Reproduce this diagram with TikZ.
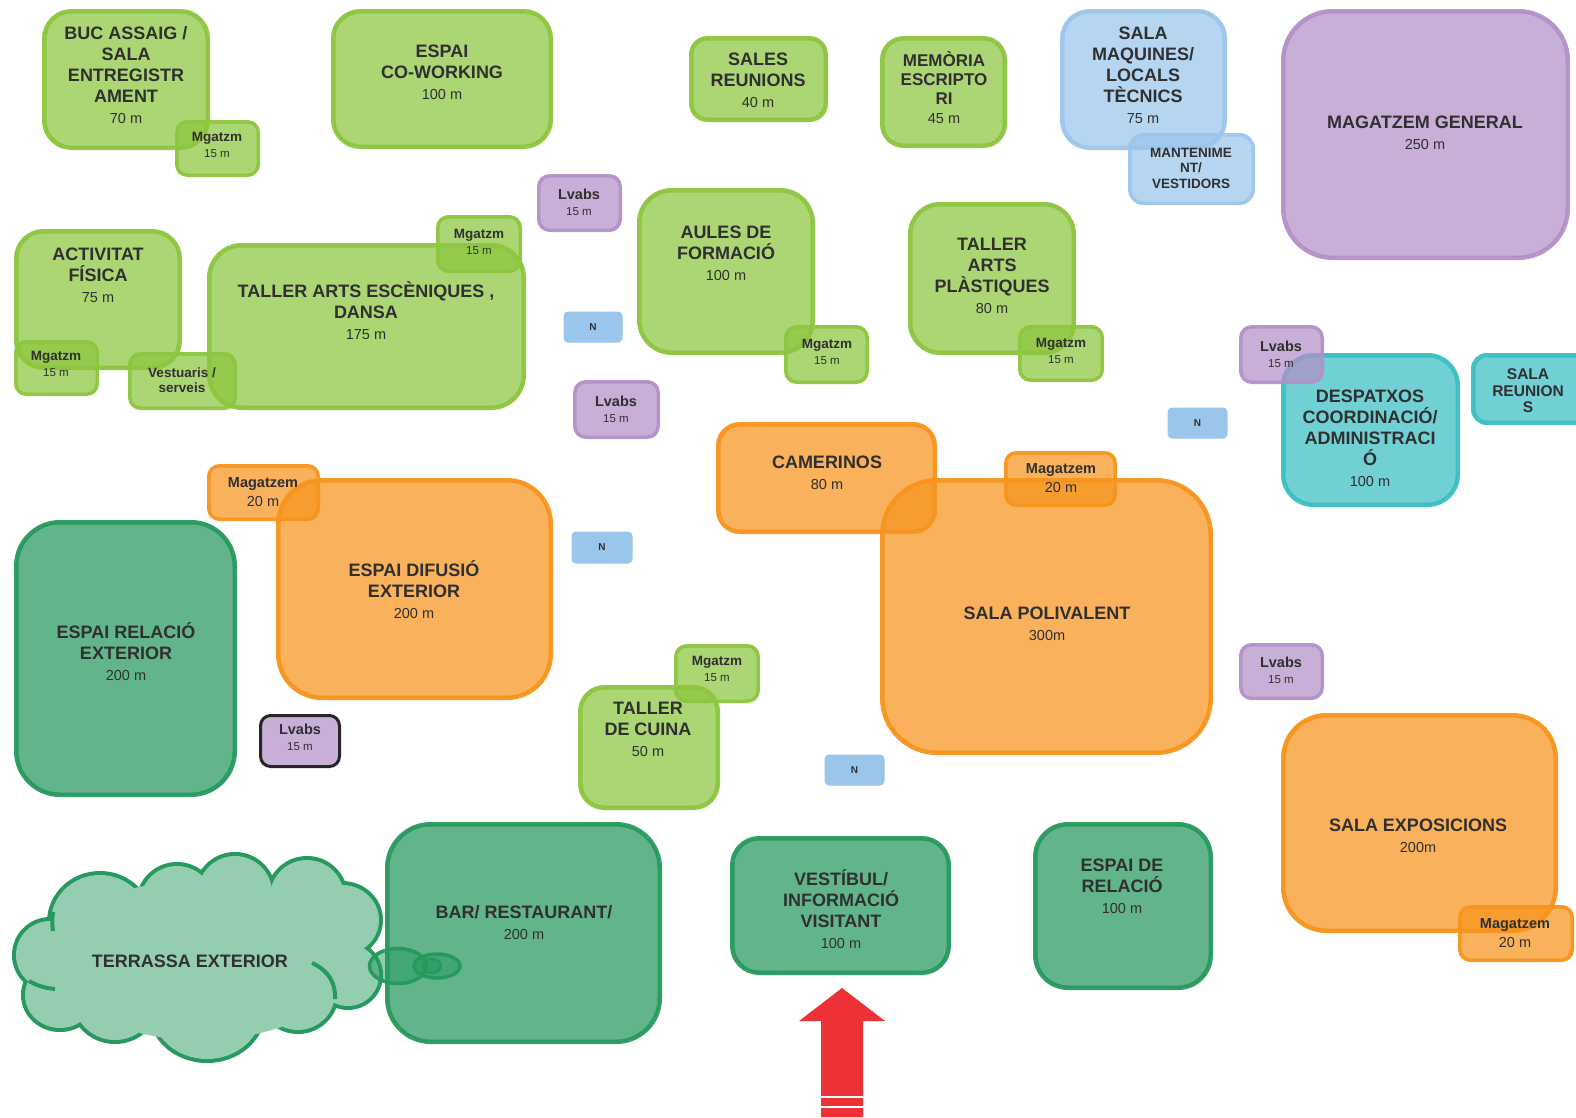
\documentclass[tikz,border=0pt]{standalone}
\usepackage{fontspec}
\setmainfont{Liberation Sans}
\usetikzlibrary{shapes.geometric}
\definecolor{cgreen}{RGB}{141,198,63}
\definecolor{corange}{RGB}{247,148,29}
\definecolor{cpurple}{RGB}{179,145,201}
\definecolor{cblue}{RGB}{155,198,236}
\definecolor{cteal}{RGB}{59,191,196}
\definecolor{cdgreen}{RGB}{38,153,94}
\definecolor{ccloud}{RGB}{149,205,177}
\definecolor{cred}{RGB}{237,50,55}
\definecolor{ctxt}{RGB}{48,48,48}
\newcommand\roombox[7]{% style, name, x1, y1, x2, y2, line width
  \pgfmathsetmacro\rbw{#5-#3-#7}\pgfmathsetmacro\rbh{#6-#4-#7}%
  \pgfmathsetmacro\rbr{0.2*min(\rbw,\rbh)}%
  \node[#1, line width=#7pt, rounded corners=\rbr pt, minimum width=\rbw pt, minimum height=\rbh pt] (#2) at ({(#3+#5)/2},{(#4+#6)/2}) {};}
\newcommand\bigroom[6]{\roombox{#1}{#2}{#3}{#4}{#5}{#6}{4.5}}
\newcommand\smallroom[6]{\roombox{#1}{#2}{#3}{#4}{#5}{#6}{3.5}}
\newcommand\sq[1]{{\fontsize{14.5}{16}\selectfont\mdseries #1}}
\newcommand\sm[1]{{\fontsize{11.5}{13}\selectfont\mdseries #1}}
\tikzset{
  room/.style={draw, inner sep=0, fill opacity=0.72, draw opacity=0.95},
  lg/.style={room, draw=cgreen, fill=cgreen},
  og/.style={room, draw=corange, fill=corange},
  pu/.style={room, draw=cpurple, fill=cpurple},
  bl/.style={room, draw=cblue, fill=cblue},
  te/.style={room, draw=cteal, fill=cteal},
  dg/.style={room, draw=cdgreen, fill=cdgreen},
  bubble/.style={ellipse, draw=cdgreen, fill=cdgreen, fill opacity=0.5, line width=3.5pt, inner sep=0},
  nbox/.style={fill=cblue, draw=cblue, inner sep=0, rounded corners=4pt, line width=1pt},
  big/.style={text=ctxt, align=center, inner sep=0, font=\fontsize{18}{21}\selectfont\bfseries},
  mid/.style={text=ctxt, align=center, inner sep=0, font=\fontsize{17}{19}\selectfont\bfseries},
  mg/.style={text=ctxt, align=center, inner sep=0, font=\fontsize{13.5}{15.5}\selectfont\bfseries},
  lv/.style={text=ctxt, align=center, inner sep=0, font=\fontsize{14.5}{16}\selectfont\bfseries},
  mz/.style={text=ctxt, align=center, inner sep=0, font=\fontsize{14.5}{18.5}\selectfont\bfseries},
  ntx/.style={text=ctxt, inner sep=0, font=\fontsize{10}{11}\selectfont\bfseries},
}
\begin{document}
\begin{tikzpicture}[x=1pt,y=-1pt]
\useasboundingbox (0,0) rectangle (1576,1117);
\clip (0,0) rectangle (1576,1117);
\fill[white] (0,0) rectangle (1576,1117);
% ---------- big rooms
\bigroom{lg}{buc}{42}{9}{210}{150}
\bigroom{lg}{cowork}{331}{9}{553}{149}
\bigroom{lg}{sales}{689}{36}{828}{122}
\bigroom{lg}{memoria}{880}{36}{1007}{148}
\bigroom{bl}{maquines}{1060}{9}{1227}{150}
\bigroom{pu}{maggen}{1281}{9}{1570}{260}
\bigroom{lg}{activitat}{14}{229}{182}{370}
\bigroom{lg}{escen}{207}{243}{526}{410}
\bigroom{lg}{aules}{637}{188}{815}{355}
\bigroom{lg}{plast}{908}{202}{1076}{355}
\bigroom{te}{despatx}{1281}{353}{1460}{507}
\bigroom{te}{salareu}{1471}{353}{1600}{425}
\bigroom{og}{camerinos}{716}{422}{937}{534}
\bigroom{og}{polival}{880}{478}{1213}{755}
\bigroom{og}{difusio}{276}{478}{553}{700}
\bigroom{dg}{relext}{14}{520}{237}{797}
\bigroom{lg}{cuina}{578}{685}{720}{810}
\bigroom{og}{exposi}{1281}{713}{1558}{933}
\bigroom{dg}{bar}{385}{822}{662}{1044}
\bigroom{dg}{vestibul}{730}{836}{951}{975}
\bigroom{dg}{relacio}{1033}{822}{1213}{990}
% ---------- small rooms
\smallroom{lg}{bucm}{175}{120}{260}{177}
\smallroom{bl}{mant}{1128}{133}{1255}{205}
\smallroom{pu}{lv1}{537}{174}{622}{232}
\smallroom{lg}{actm}{14}{340}{99}{396}
\smallroom{lg}{vest}{128}{352}{237}{410}
\smallroom{lg}{escm}{436}{215}{522}{273}
\smallroom{lg}{aulm}{784}{325}{869}{384}
\smallroom{lg}{plam}{1018}{325}{1104}{382}
\smallroom{pu}{lv2}{573}{380}{660}{439}
\smallroom{pu}{lv3}{1239}{325}{1324}{384}
\smallroom{og}{polm}{1004}{451}{1117}{507}
\smallroom{og}{difm}{207}{464}{320}{521}
\smallroom{lg}{cuim}{674}{644}{760}{703}
\smallroom{pu}{lv4}{1239}{643}{1324}{700}
\smallroom{og}{expm}{1458}{905}{1574}{962}
\roombox{room, draw=black!85, fill=cpurple, draw opacity=1}{lv5}{259}{714}{341}{768}{3}
% ---------- N boxes
\node[nbox, minimum width=58pt, minimum height=30pt] (n1) at (593,327) {};
\node[nbox, minimum width=59pt, minimum height=30pt] (n2) at (1197.5,423) {};
\node[nbox, minimum width=60pt, minimum height=31pt] (n3) at (602,547.5) {};
\node[nbox, minimum width=59pt, minimum height=30pt] (n4) at (854.5,770) {};
% ---------- cloud (terrassa): union of lobes
\def\lobes{100/922/49/47, 177/903/37/37, 235/893/37/37, 307/897/37/37, 342/920/37/35,
  348/975/31/31, 298/993/37/37, 207/1010/55/49, 115/998/42/42, 60/995/35/33, 50/955/34/34}
\foreach \cx/\cy/\rx/\ry in \lobes {\draw[cdgreen, line width=8pt] (\cx,\cy) ellipse [x radius=\rx, y radius=\ry];}
\foreach \cx/\cy/\rx/\ry in \lobes {\fill[ccloud] (\cx,\cy) ellipse [x radius=\rx, y radius=\ry];}
\fill[ccloud] (200,960) ellipse [x radius=148, y radius=80];
\draw[cdgreen, line width=4pt] (312,963) .. controls (328,970) and (336,983) .. (335,999);
\draw[cdgreen, line width=4pt] (29,981) .. controls (38,986) and (45,988) .. (55,989);
\draw[cdgreen, line width=4pt] (53,912) .. controls (52,918) and (52,924) .. (53,931);
\node[bubble, minimum width=57pt, minimum height=35pt] (bub1) at (398,966) {};
\node[bubble, minimum width=46pt, minimum height=24pt] (bub2) at (437,966) {};
\node[bubble, minimum width=18pt, minimum height=14pt, line width=2.5pt] (bub3) at (432,966) {};
% ---------- red entrance arrow
\fill[cred] (821,1117) -- (821,1021) -- (799,1021) -- (842,988) -- (885,1021) -- (863,1021) -- (863,1117) -- cycle;
\draw[white, line width=1.5pt] (821,1097) -- (863,1097) (821,1107) -- (863,1107);
% ---------- labels
\node[big] (tbuc) at (126,75) {BUC ASSAIG /\\SALA\\ENTREGISTR\\AMENT\\\sq{70 m}};
\node[big] (tcow) at (442,72) {ESPAI\\CO-WORKING\\\sq{100 m}};
\node[big] (tsal) at (758,80) {SALES\\REUNIONS\\\sq{40 m}};
\node[mid] (tmem) at (944,88) {MEMÒRIA\\ESCRIPTO\\RI\\\sq{45 m}};
\node[big] (tmaq) at (1143,75) {SALA\\MAQUINES/\\LOCALS\\TÈCNICS\\\sq{75 m}};
\node[big] (tmgg) at (1425,133) {MAGATZEM GENERAL\\\sq{250 m}};
\node[big] (tact) at (98,275) {ACTIVITAT\\FÍSICA\\\sq{75 m}};
\node[big] (tesc) at (366,311) {TALLER ARTS ESCÈNIQUES ,\\DANSA\\\sq{175 m}};
\node[big] (taul) at (726,253) {AULES DE\\FORMACIÓ\\\sq{100 m}};
\node[big] (tpla) at (992,276) {TALLER\\ARTS\\PLÀSTIQUES\\\sq{80 m}};
\node[big] (tdes) at (1370,438) {DESPATXOS\\COORDINACIÓ/\\ADMINISTRACI\\Ó\\\sq{100 m}};
\node[text=ctxt, align=center, inner sep=0, font=\fontsize{15.5}{16.5}\selectfont\bfseries] (tsre) at (1528,391) {SALA\\REUNION\\S};
\node[big] (tcam) at (827,473) {CAMERINOS\\\sq{80 m}};
\node[big] (tpol) at (1047,624) {SALA POLIVALENT\\\sq{300m}};
\node[big] (tdif) at (414,590) {ESPAI DIFUSIÓ\\EXTERIOR\\\sq{200 m}};
\node[big] (trel) at (126,652) {ESPAI RELACIÓ\\EXTERIOR\\\sq{200 m}};
\node[big] (tcui) at (648,729) {TALLER\\DE CUINA\\\sq{50 m}};
\node[big] (texp) at (1418,836) {SALA EXPOSICIONS\\\sq{200m}};
\node[big] (tbar) at (524,923) {BAR/ RESTAURANT/\\\sq{200 m}};
\node[big] (tves) at (841,909) {VESTÍBUL/\\INFORMACIÓ\\VISITANT\\\sq{100 m}};
\node[big] (trlc) at (1122,886) {ESPAI DE\\RELACIÓ\\\sq{100 m}};
\node[big] (tter) at (190,961) {TERRASSA EXTERIOR};
% small labels
\node[mg] (tbucm) at (217,145) {Mgatzm\\\sm{15 m}};
\node[mg] (tactm) at (56,364) {Mgatzm\\\sm{15 m}};
\node[mg] (tescm) at (479,242) {Mgatzm\\\sm{15 m}};
\node[mg] (taulm) at (827,352) {Mgatzm\\\sm{15 m}};
\node[mg] (tplam) at (1061,351) {Mgatzm\\\sm{15 m}};
\node[mg] (tcuim) at (717,669) {Mgatzm\\\sm{15 m}};
\node[mg] (tvest) at (182,380) {Vestuaris /\\serveis};
\node[mg, font=\fontsize{13.5}{15.5}\selectfont\bfseries] (tmant) at (1191,168) {MANTENIME\\NT/\\VESTIDORS};
\node[lv] (tlv1) at (579,202) {Lvabs\\\sm{15 m}};
\node[lv] (tlv2) at (616,409) {Lvabs\\\sm{15 m}};
\node[lv] (tlv3) at (1281,354) {Lvabs\\\sm{15 m}};
\node[lv] (tlv4) at (1281,670) {Lvabs\\\sm{15 m}};
\node[lv] (tlv5) at (300,737) {Lvabs\\\sm{15 m}};
\node[mz] (tpolm) at (1061,478) {Magatzem\\\sq{20 m}};
\node[mz] (tdifm) at (263,492) {Magatzem\\\sq{20 m}};
\node[mz] (texpm) at (1515,933) {Magatzem\\\sq{20 m}};
\node[ntx] (tn1) at (n1) {N};
\node[ntx] (tn2) at (n2) {N};
\node[ntx] (tn3) at (n3) {N};
\node[ntx] (tn4) at (n4) {N};
\end{tikzpicture}
\end{document}
